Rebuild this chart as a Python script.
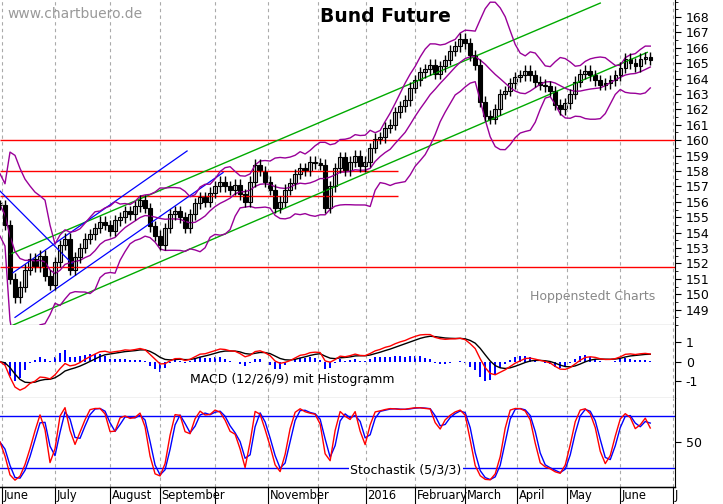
import numpy as np, pandas as pd, matplotlib
matplotlib.use("Agg")
import matplotlib.pyplot as plt, seaborn as sns

# closes, sampled about every two trading days (Jun 2015 - Jun 2016)
closes = [155.8,154.5,151.0,149.8,150.5,151.6,152.3,151.8,152.5,151.2,150.6,152.1,153.2,153.6,151.6,152.4,
153.0,153.6,153.9,154.3,154.7,154.5,154.1,154.8,155.0,155.4,155.2,155.7,156.1,155.6,154.4,153.8,153.2,154.3,
155.2,155.4,155.0,154.3,155.2,155.9,156.3,156.0,156.6,157.0,157.3,157.0,156.8,157.1,156.5,156.0,157.3,158.4,
158.0,157.3,156.8,155.6,156.0,156.8,157.2,157.8,158.2,158.0,158.6,158.5,158.4,155.6,157.0,158.2,158.9,158.0,
158.6,159.0,158.3,158.6,159.5,160.1,160.2,160.8,161.0,161.8,162.2,162.6,163.4,163.9,164.4,164.6,164.9,164.3,
164.8,165.2,165.8,166.1,166.6,166.3,165.5,164.9,162.5,161.6,161.4,162.0,163.0,163.2,163.7,164.1,164.2,164.5,
164.2,163.8,163.6,163.5,163.2,162.3,162.0,162.4,163.0,163.8,164.3,164.5,164.2,163.9,163.6,163.7,163.9,164.2,
164.7,165.3,165.0,164.8,165.3,165.4,165.2]
month_labels = ["June","July","August","September","","November","","2016","February","March","April","May","June","J"]
month_pos = [0.4,11,22,32,43,53.6,63.6,73.2,83,93,103.4,113.4,124,134.6]  # bar index of month starts
h_lines = [(160.0,0,135),(158.0,0,79.6),(156.35,0,79.6),(151.8,0,135)]
green_ch = [((2.6,148.0),(129.4,165.7)),((2,152.6),(120,168.9))]
blue_ln = [((2.6,151.4),(37.4,159.3)),((3,148.5),(44.6,157.9)),((0,156.7),(14.4,152.0))]

s = pd.Series(closes, dtype=float)
op = s.shift(1).fillna(s.iloc[0])
hi = np.maximum(s, op) + 0.35
lo = np.minimum(s, op) - 0.35
x = np.arange(len(s))
mid = s.rolling(10, min_periods=1).mean()
sd = s.rolling(10, min_periods=2).std().bfill()
ema1 = s.ewm(span=6, adjust=False).mean(); ema2 = s.ewm(span=13, adjust=False).mean()
macd = ema1 - ema2; sig = macd.ewm(span=5, adjust=False).mean(); hist = macd - sig
ll = lo.rolling(5, min_periods=1).min(); hh = hi.rolling(5, min_periods=1).max()
k = (100*(s-ll)/(hh-ll)).rolling(2, min_periods=1).mean(); d = k.rolling(2, min_periods=1).mean()

fig = plt.figure(figsize=(7.23,5.04), dpi=100)
W = 0.934
ax = fig.add_axes([0,0.355,W,0.645]); am = fig.add_axes([0,0.21,W,0.145]); ast = fig.add_axes([0,0.034,W,0.176])
for a in (ax,am,ast):
    a.set_xlim(0,135)
    for p in month_pos:
        a.axvline(p, color="#aaaaaa", ls=(0,(3,3)), lw=0.8)
    a.yaxis.tick_right(); a.set_xticks([])
    for sp in ("top","left"): a.spines[sp].set_visible(False)
    a.tick_params(axis="y", labelsize=9, length=4, direction="out")
ax.set_ylim(148.0,169.1); ax.set_yticks(range(149,169))
ax.yaxis.set_minor_locator(matplotlib.ticker.MultipleLocator(0.5)); ax.tick_params(axis="y", which="minor", length=2)
for y,x0,x1 in h_lines:
    ax.hlines(y,x0,x1,color="red",lw=1)
for (p0,p1) in green_ch:
    sns.lineplot(x=[p0[0],p1[0]], y=[p0[1],p1[1]], ax=ax, color="#00aa00", lw=1)
for (p0,p1) in blue_ln:
    sns.lineplot(x=[p0[0],p1[0]], y=[p0[1],p1[1]], ax=ax, color="blue", lw=0.9)
for band in (mid, mid+2.2*sd, mid-2.2*sd):
    sns.lineplot(x=x, y=band, ax=ax, color="#990099", lw=1)
ax.vlines(x, lo, hi, color="black", lw=1)
up = s >= op
ax.bar(x[up], (s-op)[up].clip(lower=0.12), bottom=op[up], width=0.7, color="white", edgecolor="black", lw=0.8)
ax.bar(x[~up], (op-s)[~up], bottom=s[~up], width=0.7, color="black", edgecolor="black", lw=0.8)
ax.text(1.5,167.9,"www.chartbuero.de", color="#999999", fontsize=10)
ax.text(64,167.7,"Bund Future", fontsize=13.5, fontweight="bold")
ax.text(131,149.6,"Hoppenstedt Charts", color="#888888", fontsize=9, ha="right")
ax.set_ylabel("")
am.set_ylim(-1.87,1.87); am.set_yticks([-1,0,1]); am.set_yticklabels(["-1","0","1"])
am.bar(x, hist*1.5, width=0.35, color="blue")
sns.lineplot(x=x, y=sig, ax=am, color="black", lw=1)
sns.lineplot(x=x, y=macd, ax=am, color="red", lw=1)
am.text(38,-1.1,"MACD (12/26/9) mit Histogramm", fontsize=9)
am.set_ylabel("")
ast.set_ylim(-2,101); ast.set_yticks([50])
ast.axhline(80,color="blue",lw=1); ast.axhline(20,color="blue",lw=1)
sns.lineplot(x=x, y=d, ax=ast, color="blue", lw=1)
sns.lineplot(x=x, y=k, ax=ast, color="red", lw=1)
ast.text(70,14,"Stochastik (5/3/3)", fontsize=9, bbox=dict(fc="white", ec="none", pad=1))
ast.set_ylabel("")
for p,l in zip(month_pos,month_labels):
    fig.text(p/135*W+0.002, 0.004, l, fontsize=8.3, va="bottom")
    fig.add_artist(plt.Line2D([p/135*W,p/135*W],[0,0.034],color="black",lw=0.8))
fig.add_artist(plt.Line2D([0,W],[0.034,0.034],color="black",lw=1))
fig.savefig("out.png", dpi=100)
